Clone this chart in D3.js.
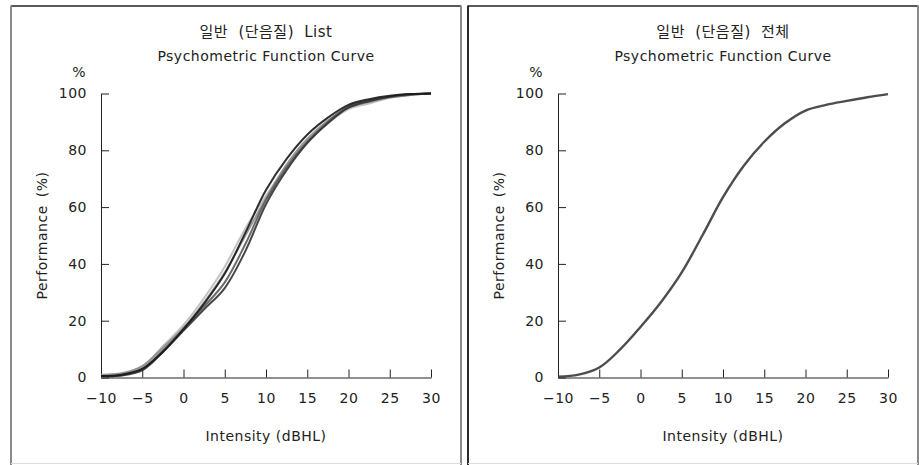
<!DOCTYPE html>
<html>
<head>
<meta charset="utf-8">
<script src="https://cdn.jsdelivr.net/npm/d3@7"></script>
<style>
  body { margin: 0; background: #fff; }
  svg text { font-family: "DejaVu Sans", "Noto Sans CJK KR", sans-serif; fill: #222; letter-spacing: 0.5px; }
</style>
</head>
<body>
<script>
var width = 919, height = 465;

// intensity grid (dBHL) and performance (%)
var intensity = [-10, -7.5, -5, -2.5, 0, 2.5, 5, 7.5, 10, 12.5, 15, 17.5, 20, 22.5, 25, 27.5, 30];
var list1 = [0.5, 1.0, 3.0, 9.0, 17.0, 26.0, 36.5, 51.0, 66.0, 77.0, 85.5, 91.5, 96.0, 98.0, 99.2, 99.8, 100];
var list2 = [0.3, 0.8, 3.0, 9.5, 17.0, 25.0, 33.5, 47.0, 62.5, 74.0, 83.0, 90.0, 95.5, 97.5, 98.8, 99.6, 100];
var list3 = [0.5, 0.7, 2.5, 9.0, 16.5, 24.0, 31.5, 44.5, 61.0, 73.0, 82.5, 89.5, 95.0, 97.3, 98.9, 99.7, 100];
var list4 = [0.8, 1.6, 3.8, 11.0, 18.5, 28.0, 39.0, 52.5, 64.0, 74.5, 83.0, 89.5, 94.5, 96.5, 98.5, 99.5, 100];
var list5 = [1.0, 1.4, 4.0, 10.5, 17.5, 26.5, 37.0, 50.0, 63.0, 75.0, 84.0, 90.5, 95.0, 97.0, 98.6, 99.5, 100];
var listColors = ["#1a1a1a", "#5a5a5a", "#333", "#bdbdbd", "#8c8c8c"];
var overall = [0.3, 1.0, 3.5, 9.8, 17.8, 26.6, 37.0, 50.0, 63.5, 74.5, 83.0, 89.5, 94.0, 96.0, 97.4, 98.7, 99.8];

var xTicks = [-10, -5, 0, 5, 10, 15, 20, 25, 30];
var yTicks = [0, 20, 40, 60, 80, 100];

var svg = d3.select("body").append("svg")
    .attr("width", width)
    .attr("height", height);

// panel frames
function frame(x0, x1, leftColor) {
    var g = svg.append("g");
    g.append("line").attr("x1", x0).attr("x2", x1).attr("y1", 6).attr("y2", 6)
        .attr("stroke", "#222").attr("stroke-width", 1.5);
    g.append("line").attr("x1", x0).attr("x2", x0).attr("y1", 5.5).attr("y2", 465)
        .attr("stroke", leftColor).attr("stroke-width", 2);
    g.append("line").attr("x1", x1).attr("x2", x1).attr("y1", 5.5).attr("y2", 465)
        .attr("stroke", "#8a8a8a").attr("stroke-width", 2);
    g.append("line").attr("x1", x0).attr("x2", x1).attr("y1", 463.5).attr("y2", 463.5)
        .attr("stroke", "#ddd").attr("stroke-width", 1);
}
frame(11, 461, "#8a8a8a");
frame(468, 918, "#2a2a2a");

function panel(left, title1, series) {
    var x = d3.scaleLinear().domain([-10, 30]).range([left, left + 330]);
    var y = d3.scaleLinear().domain([0, 100]).range([377.5, 93.5]);
    var g = svg.append("g");

    var xAxis = g.append("g")
        .attr("transform", "translate(0," + y(0) + ")")
        .call(d3.axisBottom(x).tickValues(xTicks).tickSizeInner(-8).tickSizeOuter(0)
            .tickPadding(14).tickFormat(function (d) { return d < 0 ? "\u2212" + (-d) : d; }));
    var yAxis = g.append("g")
        .attr("transform", "translate(" + x(-10) + ",0)")
        .call(d3.axisLeft(y).tickValues(yTicks).tickSizeInner(-8).tickSizeOuter(0).tickPadding(14));
    [xAxis, yAxis].forEach(function (a) {
        a.selectAll("path, line").attr("stroke", "#222");
        a.selectAll("text").style("font-size", "14px").attr("fill", "#222");
    });
    xAxis.selectAll("text").attr("dy", "0.85em");

    var line = d3.line()
        .x(function (d, i) { return x(intensity[i]); })
        .y(function (d) { return y(d); })
        .curve(d3.curveCatmullRom.alpha(0.5));

    series.forEach(function (s) {
        g.append("path")
            .attr("d", line(s.values))
            .attr("fill", "none")
            .attr("stroke", s.color)
            .attr("stroke-width", s.width)
            .attr("stroke-opacity", 0.9);
    });

    var cx = x(10);
    g.append("text").attr("x", cx).attr("y", 37).attr("text-anchor", "middle")
        .style("font-size", "15px").style("word-spacing", "5px").text(title1);
    g.append("text").attr("x", cx).attr("y", 61).attr("text-anchor", "middle")
        .style("font-size", "14px").text("Psychometric Function Curve");
    g.append("text").attr("x", left - 15).attr("y", 77).attr("text-anchor", "end")
        .style("font-size", "14px").text("%");
    g.append("text").attr("x", cx).attr("y", 441).attr("text-anchor", "middle")
        .style("font-size", "14px").text("Intensity (dBHL)");
    g.append("text")
        .attr("transform", "translate(" + (left - 54) + "," + y(50) + ") rotate(-90)")
        .attr("text-anchor", "middle")
        .style("font-size", "14px").style("word-spacing", "3px").text("Performance (%)");
}

var order = [3, 4, 1, 2, 0];
var listValues = [list1, list2, list3, list4, list5];
var lists = order.map(function (k) {
    return { values: listValues[k], color: listColors[k], width: 2 };
});
panel(101, "일반 (단음질) List", lists);
panel(558, "일반 (단음질) 전체", [{ values: overall, color: "#3a3a3a", width: 2.4 }]);
</script>
</body>
</html>
